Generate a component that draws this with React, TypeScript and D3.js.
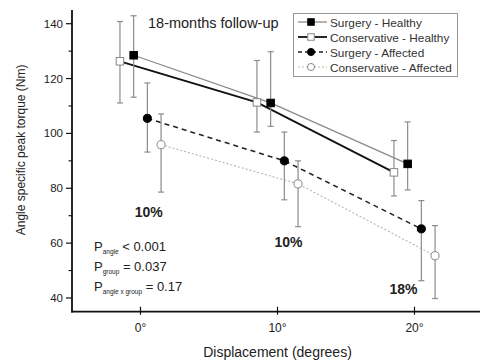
import React from "react";
import * as d3 from "d3";

// Knee torque at three displacement angles, mean with error bar limits
const angles = [0, 10, 20];
const seriesNames = [
  "Surgery - Healthy",
  "Conservative - Healthy",
  "Surgery - Affected",
  "Conservative - Affected",
];
const surgeryHealthy = [128.5, 111.1, 88.9];
const surgeryHealthyHi = [142.9, 129.8, 104.2];
const surgeryHealthyLo = [113.2, 102.6, 79.4];
const conservativeHealthy = [126.3, 111.3, 85.8];
const conservativeHealthyHi = [140.8, 126.6, 97.4];
const conservativeHealthyLo = [111.1, 100.5, 77.2];
const surgeryAffected = [105.5, 90.0, 65.2];
const surgeryAffectedHi = [118.4, 100.5, 75.5];
const surgeryAffectedLo = [93.2, 75.8, 46.3];
const conservativeAffected = [95.9, 81.6, 55.4];
const conservativeAffectedHi = [107.1, 90.0, 66.4];
const conservativeAffectedLo = [78.6, 66.0, 39.8];

const yTicks = [40, 60, 80, 100, 120, 140];
const yMinorTicks = [50, 70, 90, 110, 130];
const xTickLabels = ["0°", "10°", "20°"];
const deficitLabels = ["10%", "10%", "18%"];

const FONT = "'Liberation Sans', Arial, sans-serif";

type Style = {
  line: string;
  width: number;
  dash?: string;
  marker: "square" | "circle";
  filled: boolean;
  offset: number;
};

const styles: Style[] = [
  { line: "#8a8a8a", width: 1.3, marker: "square", filled: true, offset: -0.5 },
  { line: "#111", width: 1.8, marker: "square", filled: false, offset: -1.5 },
  { line: "#222", width: 1.6, dash: "5,4", marker: "circle", filled: true, offset: 0.5 },
  { line: "#b5b5b5", width: 1.1, dash: "2,2", marker: "circle", filled: false, offset: 1.5 },
];

const means = [surgeryHealthy, conservativeHealthy, surgeryAffected, conservativeAffected];
const highs = [surgeryHealthyHi, conservativeHealthyHi, surgeryAffectedHi, conservativeAffectedHi];
const lows = [surgeryHealthyLo, conservativeHealthyLo, surgeryAffectedLo, conservativeAffectedLo];

function Marker({ s, cx, cy, size = 7 }: { s: Style; cx: number; cy: number; size?: number }) {
  const fill = s.filled ? "#000" : "#fff";
  const stroke = s.filled ? "#000" : "#888";
  if (s.marker === "square") {
    return (
      <rect x={cx - size / 2} y={cy - size / 2} width={size} height={size} fill={fill} stroke={stroke} strokeWidth={1} />
    );
  }
  return <circle cx={cx} cy={cy} r={size / 2 + 0.3} fill={fill} stroke={stroke} strokeWidth={1} />;
}

export default function App() {
  const width = 480;
  const height = 361;
  const x = d3.scaleLinear().domain([-5, 25]).range([72, 483]);
  const y = d3.scaleLinear().domain([35, 145]).range([311.7, 10]);
  const axisLeft = 72;
  const axisBottom = 311.7;

  const lineGen = (s: Style) =>
    d3
      .line<[number, number]>()
      .x((d) => x(d[0] + s.offset))
      .y((d) => y(d[1]));

  return (
    <div style={{ position: "absolute", left: 0, top: 0, width, height, background: "#fff" }}>
      <svg width={width} height={height} style={{ display: "block", fontFamily: FONT }}>
        <rect width={width} height={height} fill="#fff" />

        {/* series lines */}
        {styles.map((s, i) => (
          <path
            key={"l" + i}
            d={lineGen(s)(angles.map((a, j) => [a, means[i][j]]) as [number, number][]) || ""}
            fill="none"
            stroke={s.line}
            strokeWidth={s.width}
            strokeDasharray={s.dash}
          />
        ))}

        {/* error bars */}
        {styles.map((s, i) =>
          angles.map((a, j) => {
            const cx = x(a + s.offset);
            return (
              <g key={"e" + i + j} stroke="#8c8c8c" strokeWidth={1.2}>
                <line x1={cx} x2={cx} y1={y(highs[i][j])} y2={y(lows[i][j])} />
                <line x1={cx - 3} x2={cx + 3} y1={y(highs[i][j])} y2={y(highs[i][j])} />
                <line x1={cx - 3} x2={cx + 3} y1={y(lows[i][j])} y2={y(lows[i][j])} />
              </g>
            );
          })
        )}

        {/* markers */}
        {styles.map((s, i) =>
          angles.map((a, j) => (
            <Marker key={"m" + i + j} s={s} cx={x(a + s.offset)} cy={y(means[i][j])} size={7.5} />
          ))
        )}

        {/* axes */}
        <line x1={axisLeft} x2={axisLeft} y1={y(145)} y2={axisBottom + 0.8} stroke="#111" strokeWidth={1.8} />
        <line x1={axisLeft - 0.8} x2={width} y1={axisBottom} y2={axisBottom} stroke="#111" strokeWidth={1.8} />
        {yTicks.map((t) => (
          <g key={"yt" + t}>
            <line x1={axisLeft - 6} x2={axisLeft} y1={y(t)} y2={y(t)} stroke="#111" strokeWidth={1.2} />
            <text x={axisLeft - 9} y={y(t) + 4} fontSize={11.5} textAnchor="end" fill="#222">
              {t}
            </text>
          </g>
        ))}
        {yMinorTicks.map((t) => (
          <line key={"ym" + t} x1={axisLeft - 3.5} x2={axisLeft} y1={y(t)} y2={y(t)} stroke="#111" strokeWidth={1.1} />
        ))}
        {angles.map((a, i) => (
          <g key={"xt" + a}>
            <line x1={x(a)} x2={x(a)} y1={axisBottom - 5} y2={axisBottom + 3} stroke="#111" strokeWidth={1.2} />
            <text x={x(a)} y={axisBottom + 20} fontSize={12} textAnchor="middle" fill="#222">
              {xTickLabels[i]}
            </text>
          </g>
        ))}

        {/* axis titles */}
        <text
          transform={`translate(25, ${y(94)}) rotate(-90)`}
          fontSize={12}
          textAnchor="middle"
          fill="#222"
        >
          Angle specific peak torque (Nm)
        </text>
        <text x={x(10)} y={357} fontSize={14} textAnchor="middle" fill="#222">
          Displacement (degrees)
        </text>

        {/* title */}
        <text x={148} y={28} fontSize={14.5} fill="#222">
          18-months follow-up
        </text>

        {/* deficit labels */}
        <text x={x(0.6)} y={y(69.5)} fontSize={14} fontWeight="bold" textAnchor="middle" fill="#222">
          {deficitLabels[0]}
        </text>
        <text x={x(10.8)} y={y(58.6)} fontSize={14} fontWeight="bold" textAnchor="middle" fill="#222">
          {deficitLabels[1]}
        </text>
        <text x={x(19.2)} y={y(41.5)} fontSize={14} fontWeight="bold" textAnchor="middle" fill="#222">
          {deficitLabels[2]}
        </text>

        {/* statistics */}
        <g fill="#222">
          <text x={94} y={251} fontSize={13}>
            P<tspan fontSize={6.5} dy={3}>angle</tspan>
            <tspan fontSize={13} dy={-3}> &lt; 0.001</tspan>
          </text>
          <text x={94} y={271} fontSize={13}>
            P<tspan fontSize={6.5} dy={3}>group</tspan>
            <tspan fontSize={13} dy={-3}> = 0.037</tspan>
          </text>
          <text x={94} y={291} fontSize={13}>
            P<tspan fontSize={6.5} dy={3}>angle x group</tspan>
            <tspan fontSize={13} dy={-3}> = 0.17</tspan>
          </text>
        </g>

        {/* legend */}
        <rect x={293.5} y={13.5} width={164} height={63} fill="#fff" stroke="#999" strokeWidth={1} />
        {styles.map((s, i) => {
          const ly = 22 + i * 15;
          return (
            <g key={"lg" + i}>
              <line
                x1={298}
                x2={327}
                y1={ly}
                y2={ly}
                stroke={s.line}
                strokeWidth={s.width}
                strokeDasharray={s.dash ? (i === 2 ? "4,3" : s.dash) : undefined}
              />
              <Marker s={s} cx={311} cy={ly} size={6.5} />
              <text x={330} y={ly + 4.5} fontSize={11.8} fill="#333">
                {seriesNames[i]}
              </text>
            </g>
          );
        })}
      </svg>
    </div>
  );
}
